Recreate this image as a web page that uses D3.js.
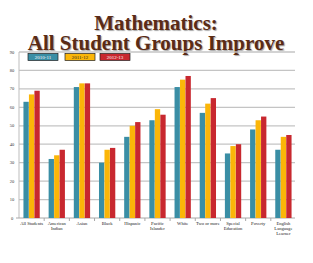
<!DOCTYPE html>
<html>
<head>
<meta charset="utf-8">
<script src="https://cdn.jsdelivr.net/npm/d3@7"></script>
<style>
  body { margin: 0; background: #fff; }
  svg { display: block; }
</style>
</head>
<body>
<svg id="mainsvg" width="313" height="263"></svg>
<script>
// values
const categories = [
  ['All Students'], ['American', 'Indian'], ['Asian'], ['Black'], ['Hispanic'],
  ['Pacific', 'Islander'], ['White'], ['Two or more'], ['Special', 'Education'],
  ['Poverty'], ['English', 'Language', 'Learner']
];
const seriesNames = ['2010-11', '2011-12', '2012-13'];
const y2011 = [63, 32, 71, 30, 44, 53, 71, 57, 35, 48, 37];
const y2012 = [67, 34, 73, 37, 50, 59, 75, 62, 39, 53, 44];
const y2013 = [69, 37, 73, 38, 52, 56, 77, 65, 40, 55, 45];
const yTicks = [0, 10, 20, 30, 40, 50, 60, 70, 80, 90];
const colors = ['#3a8ea5', '#fbb608', '#c8282f'];

const svg = d3.select('#mainsvg');
const margin = { top: 52, right: 18, bottom: 45, left: 19 };
const width = +svg.attr('width');
const height = +svg.attr('height');

const series = [y2011, y2012, y2013];
const rows = categories.map((c, i) => ({ key: c.join(' '), lines: c, vals: series.map(s => s[i]) }));

const x0 = d3.scaleBand()
  .domain(rows.map(d => d.key))
  .range([margin.left, width - margin.right + 1])
  .paddingInner(0.34)
  .paddingOuter(0.17);
const x1 = d3.scaleBand()
  .domain(d3.range(3))
  .range([0, x0.bandwidth()])
  .padding(0.03);
const y = d3.scaleLinear()
  .domain([0, 90])
  .range([height - margin.bottom, margin.top]);

// title
const title = svg.append('g')
  .attr('font-family', 'Liberation Serif, serif')
  .attr('font-weight', 'bold')
  .attr('font-size', 21)
  .attr('fill', '#5b2b15')
  .attr('text-anchor', 'middle')
  .style('text-shadow', '1px 1px 1px rgba(0,0,0,0.35)');
title.append('text').attr('x', 156).attr('y', 30).text('Mathematics:');
title.append('text').attr('x', 156).attr('y', 49.5).text('All Student Groups Improve');

// gridlines
svg.append('g')
  .selectAll('line')
  .data(yTicks.slice(1))
  .join('line')
  .attr('x1', margin.left)
  .attr('x2', width - margin.right)
  .attr('y1', d => y(d))
  .attr('y2', d => y(d))
  .attr('stroke', '#c4c4c4')
  .attr('stroke-width', 1.3);

// y labels
svg.append('g')
  .selectAll('text')
  .data(yTicks)
  .join('text')
  .attr('x', 12)
  .attr('y', d => y(d) + 1.5)
  .attr('text-anchor', 'middle')
  .attr('font-family', 'Liberation Serif, serif')
  .attr('font-size', 4.5)
  .attr('fill', '#333')
  .text(d => d);

// axes lines
svg.append('line')
  .attr('x1', margin.left).attr('x2', margin.left)
  .attr('y1', y(90)).attr('y2', y(0))
  .attr('stroke', '#bdbdbd').attr('stroke-width', 1);
svg.append('line')
  .attr('x1', margin.left - 3).attr('x2', width - margin.right)
  .attr('y1', y(0)).attr('y2', y(0))
  .attr('stroke', '#a8a8a8').attr('stroke-width', 1);

// category separators
const gap = x0.step() * x0.paddingInner();
svg.append('g')
  .selectAll('line')
  .data(rows.slice(1))
  .join('line')
  .attr('x1', d => x0(d.key) - gap / 2)
  .attr('x2', d => x0(d.key) - gap / 2)
  .attr('y1', y(0))
  .attr('y2', y(0) + 3)
  .attr('stroke', '#a8a8a8');

// bars
const groups = svg.append('g')
  .selectAll('g')
  .data(rows)
  .join('g')
  .attr('transform', d => `translate(${x0(d.key)},0)`);
groups.selectAll('rect')
  .data(d => d.vals)
  .join('rect')
  .attr('x', (d, i) => x1(i))
  .attr('width', x1.bandwidth())
  .attr('y', d => y(d))
  .attr('height', d => y(0) - y(d))
  .attr('fill', (d, i) => colors[i]);

// category labels
const labels = svg.append('g')
  .attr('font-family', 'Liberation Serif, serif')
  .attr('font-size', 4.6)
  .attr('fill', '#222')
  .attr('text-anchor', 'middle');
rows.forEach(d => {
  const t = labels.append('text')
    .attr('x', x0(d.key) + x0.bandwidth() / 2)
    .attr('y', y(0) + 6.5);
  d.lines.forEach((l, j) => {
    t.append('tspan')
      .attr('x', x0(d.key) + x0.bandwidth() / 2)
      .attr('dy', j === 0 ? 0 : 5.2)
      .text(l);
  });
});

// legend
const legX = [28, 65, 100];
const leg = svg.append('g');
seriesNames.forEach((s, i) => {
  leg.append('rect')
    .attr('x', legX[i]).attr('y', 53.5)
    .attr('width', 30).attr('height', 7)
    .attr('fill', colors[i])
    .attr('stroke', '#222').attr('stroke-width', 0.7);
  leg.append('text')
    .attr('x', legX[i] + 15).attr('y', 58.8)
    .attr('text-anchor', 'middle')
    .attr('font-family', 'Liberation Serif, serif')
    .attr('font-size', 5)
    .attr('fill', i === 1 ? '#222' : '#fff')
    .text(s);
});
</script>
</body>
</html>
